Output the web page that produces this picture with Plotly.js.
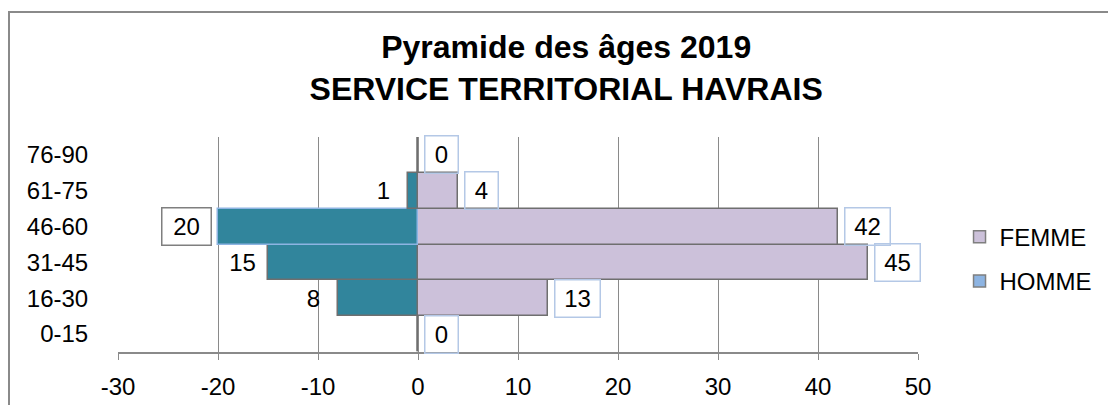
<!DOCTYPE html>
<html>
<head>
<meta charset="utf-8">
<script src="https://cdn.plot.ly/plotly-3.0.1.min.js"></script>
<style>
  html, body { margin: 0; padding: 0; background: #fff; }
  #wrap { position: relative; width: 1108px; height: 405px; }
  #chart { width: 1108px; height: 405px; }
  #frame {
    position: absolute; left: 8px; top: 11px; right: 0; bottom: 0;
    border-left: 2px solid #8a8a8a; border-top: 2px solid #8a8a8a;
    pointer-events: none;
  }
</style>
</head>
<body>
<div id="wrap">
  <div id="chart"></div>
  <div id="frame"></div>
</div>
<script>
// Données de la pyramide
const ageGroups = ["0-15", "16-30", "31-45", "46-60", "61-75", "76-90"];
const femme = [0, 13, 45, 42, 4, 0];
const homme = [0, 8, 15, 20, 1, 0];
const xTickValues = [-30, -20, -10, 0, 10, 20, 30, 40, 50];

const FONT = "Liberation Sans, Arial, sans-serif";
const barLine = "#6f6f6f";
const labelBlue = "#b4c8e6";

// hommes à gauche (valeurs négatives)
const hommeX = homme.map((v) => -v);

// contour clair sur la barre 46-60 des hommes (comme dans l'original)
const hommeLineColors = ageGroups.map((g) => (g === "46-60" ? "#8db4e2" : barLine));

const traces = [
  {
    type: "bar",
    orientation: "h",
    y: ageGroups,
    x: femme,
    name: "FEMME",
    marker: { color: "#ccc1da", line: { color: barLine, width: 1.5 } },
    showlegend: false,
    hoverinfo: "x+y",
  },
  {
    type: "bar",
    orientation: "h",
    y: ageGroups,
    x: hommeX,
    name: "HOMME",
    marker: { color: "#31859c", line: { color: hommeLineColors, width: 1.5 } },
    showlegend: false,
    hoverinfo: "x+y",
  },
  // entrées de légende
  {
    type: "bar", orientation: "h", x: [null], y: [null], name: "FEMME",
    legendgroup: "f",
    marker: { color: "#ccc1da", line: { color: "#7f7f7f", width: 1.5 } },
  },
  {
    type: "bar", orientation: "h", x: [null], y: [null], name: "HOMME",
    legendgroup: "h",
    marker: { color: "#8db4e2", line: { color: "#7f7f7f", width: 1.5 } },
  },
];

// étiquettes de valeurs
const annotations = [];
femme.forEach((v, i) => {
  annotations.push({
    x: v, y: ageGroups[i], xref: "x", yref: "y",
    text: String(v), showarrow: false,
    xanchor: "left", xshift: 6,
    width: String(v).length > 1 ? 36 : 24, height: 28,
    bordercolor: labelBlue, borderwidth: 1.5, borderpad: 4,
    bgcolor: "rgba(255,255,255,0)",
    font: { family: FONT, size: 24, color: "#000" },
  });
});
homme.forEach((v, i) => {
  if (v === 0) return;
  annotations.push({
    x: -v, y: ageGroups[i], xref: "x", yref: "y",
    text: String(v), showarrow: false,
    xanchor: "right", xshift: v === 15 ? 0 : -6,
    width: String(v).length > 1 ? 40 : 26, height: 28,
    bordercolor: v === 20 ? "#7f7f7f" : "rgba(0,0,0,0)",
    borderwidth: 1.5, borderpad: 4,
    font: { family: FONT, size: 24, color: "#000" },
  });
});

const layout = {
  width: 1108,
  height: 405,
  margin: { l: 118, r: 190, t: 137, b: 53 },
  paper_bgcolor: "#fff",
  plot_bgcolor: "#fff",
  font: { family: FONT, size: 24, color: "#000" },
  title: {
    text: "<b>Pyramide des âges 2019<br>SERVICE TERRITORIAL HAVRAIS</b>",
    font: { family: FONT, size: 32, color: "#000" },
    x: 0.511, xanchor: "center",
    y: 0.857, yanchor: "middle",
  },
  barmode: "overlay",
  bargap: 0,
  xaxis: {
    range: [-30, 50],
    tickvals: xTickValues,
    ticktext: xTickValues.map(String),
    showgrid: true,
    gridcolor: "#8a8a8a",
    gridwidth: 1,
    zeroline: false,
    showline: true,
    linecolor: "#8a8a8a",
    linewidth: 1.5,
    ticks: "outside",
    ticklen: 6,
    tickcolor: "#8a8a8a",
    ticklabelstandoff: 6,
    tickfont: { family: FONT, size: 24, color: "#000" },
    automargin: false,
    fixedrange: true,
  },
  yaxis: {
    type: "category",
    categoryorder: "array",
    categoryarray: ageGroups,
    range: [-0.5, 5.5],
    showgrid: false,
    zeroline: false,
    showline: false,
    ticks: "outside",
    ticklen: 24,
    tickcolor: "rgba(0,0,0,0)",
    tickfont: { family: FONT, size: 24, color: "#000" },
    automargin: false,
    fixedrange: true,
  },
  legend: {
    xref: "container", yref: "container",
    x: 0.866, xanchor: "left",
    y: 0.36, yanchor: "middle",
    traceorder: "grouped",
    tracegroupgap: 10,
    font: { family: FONT, size: 24, color: "#000" },
    itemclick: false,
    bgcolor: "rgba(0,0,0,0)",
  },
  annotations: annotations,
};

Plotly.newPlot("chart", traces, layout, { displayModeBar: false });
</script>
</body>
</html>
